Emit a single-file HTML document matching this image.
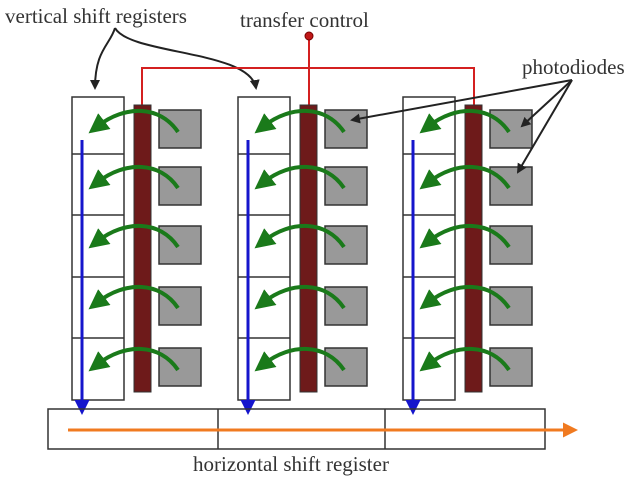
<!DOCTYPE html>
<html><head><style>body{margin:0;background:#fff}svg{display:block}</style></head><body>
<svg width="638" height="477" viewBox="0 0 638 477" xmlns="http://www.w3.org/2000/svg" font-family="Liberation Serif, serif">
<defs>
<marker id="g" markerWidth="5" markerHeight="5" refX="2" refY="2.5" orient="auto" markerUnits="strokeWidth"><path d="M0,0 L5,2.5 L0,5 Z" fill="#1a7a1a"/></marker>
<marker id="b" markerWidth="5" markerHeight="5" refX="1" refY="2.5" orient="auto" markerUnits="strokeWidth"><path d="M0,0 L5,2.5 L0,5 Z" fill="#1515cc"/></marker>
<marker id="o" markerWidth="5" markerHeight="5" refX="1" refY="2.5" orient="auto" markerUnits="strokeWidth"><path d="M0,0 L5,2.5 L0,5 Z" fill="#f07a20"/></marker>
<marker id="k" markerWidth="10" markerHeight="10" refX="8" refY="5" orient="auto" markerUnits="userSpaceOnUse"><path d="M0,0 L10,5 L0,10 Z" fill="#222"/></marker>
</defs>
<text x="5" y="23" font-size="21" fill="#333">vertical shift registers</text>
<text x="240" y="27" font-size="21" fill="#333">transfer control</text>
<text x="522" y="74" font-size="21" fill="#333">photodiodes</text>
<text x="193" y="471" font-size="21" fill="#333">horizontal shift register</text>
<path d="M115,28 C110,45 95,50 95,88" fill="none" stroke="#222" stroke-width="2" marker-end="url(#k)"/>
<path d="M115,28 C130,55 250,50 256,88" fill="none" stroke="#222" stroke-width="2" marker-end="url(#k)"/>
<g stroke="#d42020" stroke-width="2" fill="none"><path d="M142,105 V68 H474 V105"/><path d="M309,36 V105"/></g>
<circle cx="309" cy="36" r="4" fill="#c01818" stroke="#700" stroke-width="1"/>
<g id="c1">
<rect x="72" y="97" width="52" height="303" fill="#fff" stroke="#333" stroke-width="1.5"/>
<g stroke="#333" stroke-width="1.5"><line x1="72" y1="154" x2="124" y2="154"/><line x1="72" y1="215" x2="124" y2="215"/><line x1="72" y1="277" x2="124" y2="277"/><line x1="72" y1="338" x2="124" y2="338"/></g>
<rect x="134" y="105" width="17" height="287" fill="#6e1a1a" stroke="#333"/>
<g fill="#999" stroke="#333" stroke-width="1.5"><rect x="159" y="110" width="42" height="38"/><rect x="159" y="167" width="42" height="38"/><rect x="159" y="226" width="42" height="38"/><rect x="159" y="287" width="42" height="38"/><rect x="159" y="348" width="42" height="38"/></g>
<g fill="none" stroke="#1a7a1a" stroke-width="4">
<path d="M178,132 C160,105 125,105 98,126" marker-end="url(#g)"/>
<path d="M178,188 C160,161 125,161 98,182" marker-end="url(#g)"/>
<path d="M178,247 C160,220 125,220 98,241" marker-end="url(#g)"/>
<path d="M178,308 C160,281 125,281 98,302" marker-end="url(#g)"/>
<path d="M178,370 C160,343 125,343 98,364" marker-end="url(#g)"/>
</g>
<line x1="82" y1="140" x2="82" y2="403" stroke="#1515cc" stroke-width="3" marker-end="url(#b)"/>
</g>
<use href="#c1" x="166"/>
<use href="#c1" x="331"/>
<path d="M572,80 L352,120" stroke="#222" stroke-width="2" marker-end="url(#k)"/>
<path d="M572,80 L522,126" stroke="#222" stroke-width="2" marker-end="url(#k)"/>
<path d="M572,80 L518,172" stroke="#222" stroke-width="2" marker-end="url(#k)"/>
<rect x="48" y="409" width="497" height="40" fill="none" stroke="#333" stroke-width="1.5"/>
<line x1="218" y1="409" x2="218" y2="449" stroke="#333" stroke-width="1.5"/>
<line x1="385" y1="409" x2="385" y2="449" stroke="#333" stroke-width="1.5"/>
<line x1="68" y1="430" x2="566" y2="430" stroke="#f07a20" stroke-width="3" marker-end="url(#o)"/>
</svg>
</body></html>
